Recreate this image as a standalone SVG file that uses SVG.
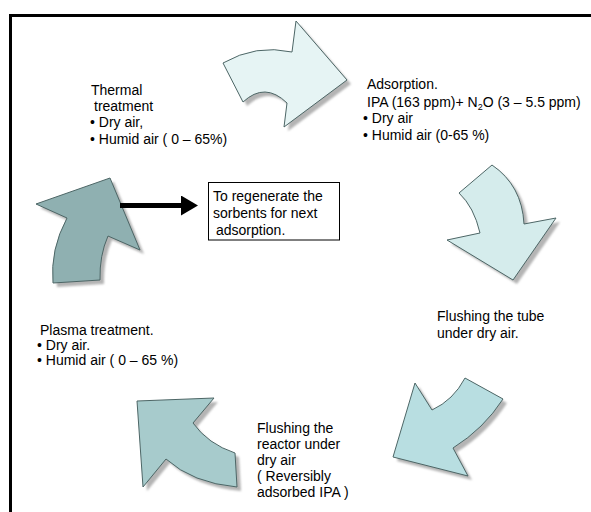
<svg xmlns="http://www.w3.org/2000/svg" width="591" height="512" viewBox="0 0 591 512">
<style>
  text { font-family: "Liberation Sans", Arial, sans-serif; font-size: 14px; fill: #000; }
  .arrow { stroke: #4d6666; stroke-width: 1; stroke-linejoin: miter; }
  .shadow { fill: #b4b4b4; stroke: none; }
</style>
<defs>
  <filter id="blur" x="-10%" y="-10%" width="120%" height="120%">
    <feGaussianBlur stdDeviation="1"/>
  </filter>
  <marker id="head" markerWidth="4" markerHeight="4" refX="0" refY="2" orient="auto" markerUnits="strokeWidth">
    <path d="M0,0 L3.4,2 L0,4 Z" fill="#000"/>
  </marker>
  <path id="a1" d="M223,63 Q256,44 292,52 L296,21 L347,80 L284,127 L287,103 Q265,81.5 243,102 Z"/>
  <path id="a2" d="M459,193 L492,165 Q522,185.5 524,224 L556,218 L513,280 L447,240 L480,233 Q474,207 459,193 Z"/>
  <path id="a3" d="M465,378 L503,399 Q484,428.5 453,448 L468,476 L393,457 L415,383 L432,410 Q453.5,400 465,378 Z"/>
  <path id="a4" d="M137,401 L214,398 L193,423 Q208,444 235,453 L237,487 Q192.5,483 166,459 L143,487 Z"/>
  <path id="a5" d="M110,178 L36,204 L67,218 Q50,249.5 53,283 L100,280 Q99.4,255.4 108,236 L140,250 Z"/>
</defs>
<rect width="591" height="512" fill="#fff"/>
<path d="M10.5,512 V15.5 H591" fill="none" stroke="#000" stroke-width="3"/>

<g id="arrow-adsorption">
  <use href="#a1" class="shadow" transform="translate(4,4)" filter="url(#blur)"/>
  <use href="#a1" class="arrow" fill="#e6f4f4"/>
</g>
<g id="arrow-flush-tube">
  <use href="#a2" class="shadow" transform="translate(4,4)" filter="url(#blur)"/>
  <use href="#a2" class="arrow" fill="#d5ecec"/>
</g>
<g id="arrow-flush-reactor">
  <use href="#a3" class="shadow" transform="translate(4,4)" filter="url(#blur)"/>
  <use href="#a3" class="arrow" fill="#b8dee1"/>
</g>
<g id="arrow-plasma">
  <use href="#a4" class="shadow" transform="translate(4,4)" filter="url(#blur)"/>
  <use href="#a4" class="arrow" fill="#a7cbcc"/>
</g>
<g id="arrow-thermal">
  <use href="#a5" class="shadow" transform="translate(4,4)" filter="url(#blur)"/>
  <use href="#a5" class="arrow" fill="#8fb0b1"/>
</g>

<g id="connectors">
  <line x1="120" y1="205.5" x2="181" y2="205.5" stroke="#000" stroke-width="5" marker-end="url(#head)"/>
</g>

<g id="thermal-treatment">
  <text x="91" y="95">Thermal</text>
  <text x="94" y="111">treatment</text>
  <text x="90" y="127">• Dry air,</text>
  <text x="90" y="144">• Humid air  ( 0 – 65%)</text>
</g>

<g id="adsorption">
  <text x="367" y="89">Adsorption.</text>
  <text x="367" y="106.5">IPA (163 ppm)+ N<tspan font-size="9" dy="3">2</tspan><tspan dy="-3">O (3 – 5.5 ppm)</tspan></text>
  <text x="363" y="122.5">• Dry air</text>
  <text x="363" y="140">• Humid air  (0-65 %)</text>
</g>

<g id="regenerate">
  <rect x="208.5" y="182.5" width="131" height="57.5" fill="#fff" stroke="#000" stroke-width="1"/>
  <text x="213" y="201">To regenerate the</text>
  <text x="213" y="218">sorbents for next</text>
  <text x="216" y="235">adsorption.</text>
</g>

<g id="flushing-tube">
  <text x="437" y="321">Flushing the tube</text>
  <text x="437" y="338">under dry air.</text>
</g>

<g id="flushing-reactor">
  <text x="257" y="433">Flushing the</text>
  <text x="257" y="449">reactor under</text>
  <text x="257" y="465">dry air</text>
  <text x="257" y="481">( Reversibly</text>
  <text x="257" y="497">adsorbed IPA )</text>
</g>

<g id="plasma-treatment">
  <text x="40" y="335">Plasma treatment.</text>
  <text x="37" y="349.5">• Dry air.</text>
  <text x="37" y="365">• Humid air  ( 0 – 65 %)</text>
</g>
</svg>
